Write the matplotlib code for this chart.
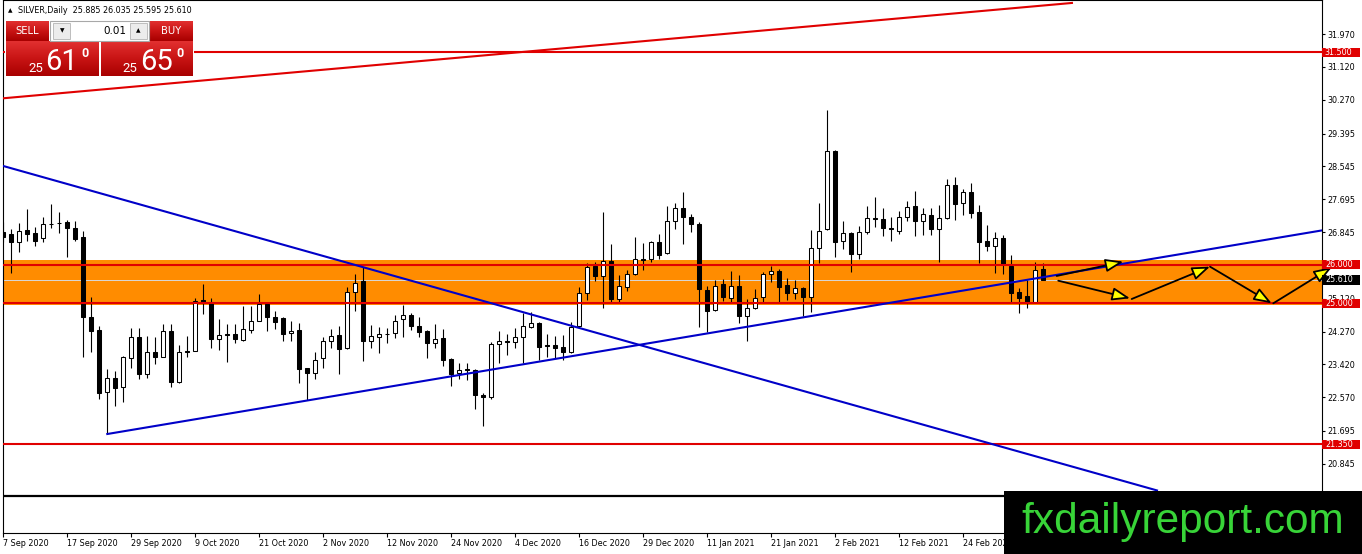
import numpy as np
import matplotlib
matplotlib.use('Agg')
import matplotlib.pyplot as plt
from matplotlib.patches import Rectangle
from matplotlib.colors import LinearSegmentedColormap
import matplotlib.transforms as mtransforms

# ---------------- data ----------------
opens = [26.855, 26.795, 26.579, 26.898, 26.829, 26.683, 27.062, 27.088, 27.097, 26.942,
         26.708, 24.654, 24.309, 22.695, 23.057, 22.824, 23.575, 24.136, 23.161, 23.731,
         23.619, 24.292, 22.971, 23.765, 23.774, 25.086, 25.025, 24.067, 24.197, 24.197,
         24.050, 24.309, 24.551, 24.982, 24.654, 24.628, 24.223, 24.309, 23.316, 23.187,
         23.575, 24.015, 24.180, 23.835, 25.285, 25.578, 24.033, 24.137, 24.206, 24.223,
         24.586, 24.698, 24.413, 24.292, 23.964, 24.094, 23.550, 23.187, 23.300, 23.274,
         22.626, 22.566, 23.947, 24.025, 23.990, 24.120, 24.395, 24.482, 23.912, 23.912,
         23.860, 23.748, 24.413, 25.258, 25.966, 25.716, 26.096, 25.103, 25.431, 25.750,
         26.139, 26.139, 26.579, 26.294, 27.140, 27.459, 27.226, 27.045, 25.345, 24.827,
         25.501, 25.129, 25.449, 24.672, 24.871, 25.155, 25.751, 25.837, 25.475, 25.259,
         25.388, 25.173, 26.424, 26.916, 28.945, 26.614, 26.830, 26.277, 26.839, 27.210,
         27.175, 26.942, 26.881, 27.244, 27.520, 27.140, 27.287, 26.933, 27.201, 28.064,
         27.589, 27.874, 27.356, 26.614, 26.484, 26.683, 25.966, 25.284, 25.189, 25.043,
         25.885]
highs = [27.115, 26.916, 27.088, 27.433, 26.985, 27.244, 27.572, 27.373, 27.157, 27.140,
         26.881, 25.155, 24.421, 23.291, 23.247, 23.645, 24.352, 24.352, 24.154, 24.136,
         24.464, 24.464, 23.921, 24.154, 25.129, 25.500, 25.129, 24.585, 24.464, 24.456,
         24.930, 24.930, 25.241, 25.017, 24.801, 24.646, 24.551, 24.499, 23.334, 23.748,
         24.119, 24.326, 24.422, 25.414, 25.760, 25.932, 24.439, 24.379, 24.353, 24.698,
         24.957, 24.758, 24.637, 24.310, 24.456, 24.335, 23.576, 23.464, 23.446, 23.291,
         22.687, 24.007, 24.292, 24.206, 24.353, 24.741, 24.784, 24.525, 24.205, 24.154,
         24.180, 24.525, 25.414, 26.052, 26.078, 27.356, 26.527, 25.733, 25.862, 26.708,
         26.570, 26.622, 26.795, 27.520, 27.606, 27.874, 27.304, 27.097, 25.448, 25.604,
         25.630, 25.837, 25.734, 25.112, 25.362, 25.820, 25.967, 25.880, 25.665, 25.604,
         25.414, 26.899, 27.589, 30.006, 28.970, 27.132, 26.856, 27.002, 27.520, 27.745,
         27.460, 27.226, 27.390, 27.649, 27.908, 27.477, 27.460, 27.546, 28.219, 28.262,
         27.960, 28.124, 27.546, 27.028, 26.855, 26.769, 26.251, 25.405, 25.604, 26.079,
         26.035]
lows = [26.579, 25.776, 26.337, 26.622, 26.493, 26.596, 26.942, 26.812, 26.208, 26.622,
        23.619, 23.748, 22.522, 21.616, 22.350, 22.453, 23.316, 23.040, 23.058, 23.420,
        23.601, 22.824, 22.945, 23.601, 23.757, 24.715, 23.834, 23.791, 23.489, 23.981,
        24.033, 24.240, 24.533, 24.292, 24.335, 24.033, 24.033, 22.945, 22.497, 23.040,
        23.334, 23.834, 23.162, 23.818, 24.810, 23.507, 23.835, 23.705, 23.964, 24.094,
        24.137, 24.310, 24.137, 23.576, 23.835, 23.377, 22.868, 23.032, 23.015, 22.255,
        21.832, 22.514, 23.464, 23.662, 23.835, 23.464, 24.352, 23.532, 23.619, 23.575,
        23.532, 23.722, 24.395, 25.086, 25.578, 24.887, 24.999, 25.017, 25.319, 25.733,
        25.862, 26.078, 26.139, 26.277, 26.916, 26.527, 26.838, 24.395, 24.266, 24.810,
        25.069, 25.000, 24.499, 24.033, 24.845, 25.017, 25.561, 25.017, 25.086, 25.112,
        24.672, 24.784, 26.036, 26.899, 26.208, 26.407, 25.820, 26.139, 26.787, 26.985,
        26.743, 26.622, 26.786, 27.140, 26.743, 26.769, 26.769, 26.079, 27.183, 27.158,
        27.287, 27.201, 26.053, 26.355, 25.794, 25.751, 25.000, 24.758, 24.870, 25.017,
        25.595]
closes = [26.726, 26.579, 26.872, 26.795, 26.622, 27.045, 27.045, 27.079, 26.942, 26.665,
          24.637, 24.292, 22.686, 23.057, 22.799, 23.601, 24.119, 23.161, 23.731, 23.619,
          24.292, 22.971, 23.731, 23.739, 25.069, 25.025, 24.067, 24.180, 24.171, 24.067,
          24.326, 24.551, 24.982, 24.637, 24.508, 24.197, 24.292, 23.299, 23.187, 23.532,
          24.024, 24.154, 23.809, 25.285, 25.518, 24.025, 24.154, 24.206, 24.197, 24.551,
          24.698, 24.413, 24.266, 23.964, 24.068, 23.533, 23.170, 23.274, 23.282, 22.626,
          22.566, 23.938, 24.025, 24.007, 24.120, 24.413, 24.482, 23.877, 23.895, 23.852,
          23.748, 24.395, 25.258, 25.949, 25.716, 26.096, 25.103, 25.448, 25.750, 26.139,
          26.130, 26.579, 26.251, 27.140, 27.459, 27.226, 27.045, 25.362, 24.810, 25.457,
          25.156, 25.449, 24.681, 24.871, 25.129, 25.760, 25.837, 25.414, 25.259, 25.388,
          25.173, 26.424, 26.882, 28.945, 26.597, 26.813, 26.269, 26.839, 27.201, 27.192,
          26.942, 26.916, 27.244, 27.485, 27.140, 27.313, 26.924, 27.201, 28.064, 27.563,
          27.874, 27.330, 26.579, 26.493, 26.683, 26.018, 25.276, 25.146, 25.043, 25.863,
          25.610]

x_tick_labels = ['7 Sep 2020', '17 Sep 2020', '29 Sep 2020', '9 Oct 2020', '21 Oct 2020',
                 '2 Nov 2020', '12 Nov 2020', '24 Nov 2020', '4 Dec 2020', '16 Dec 2020',
                 '29 Dec 2020', '11 Jan 2021', '21 Jan 2021', '2 Feb 2021', '12 Feb 2021',
                 '24 Feb 2021']
bars_per_label = 8
y_tick_values = [31.970, 31.120, 30.270, 29.395, 28.545, 27.695, 26.845, 25.120,
                 24.270, 23.420, 22.570, 21.695, 20.845]

red_levels = [31.5, 26.0, 25.0, 21.35]
black_level = 20.0
zone_low, zone_high = 24.96, 26.11
bid_price = 25.610

red_trend_x = [-1.0, 133.75]
red_trend_y = [30.29, 32.78]
blue_down_x = [-1.0, 144.25]
blue_down_y = [28.616, 20.155]
blue_up_x = [13.04, 170.0]
blue_up_y = [21.616, 27.066]

arrow_x0 = [131.71, 131.91, 141.09, 150.88, 158.79]
arrow_y0 = [25.708, 25.586, 25.112, 25.949, 25.001]
arrow_x1 = [140.04, 140.88, 150.88, 158.59, 166.09]
arrow_y1 = [26.078, 25.130, 25.949, 25.001, 25.933]

title_text = 'SILVER,Daily  25.885 26.035 25.595 25.610'

# ---------------- figure ----------------
W, H = 1362, 554
fig = plt.figure(figsize=(W / 100, H / 100), dpi=100)
fig.patch.set_facecolor('white')
left_px, right_px, bottom_px = 2.7, 1321.7, 533.3
ax = fig.add_axes([left_px / W, (H - bottom_px) / H, (right_px - left_px) / W, bottom_px / H])
ax.set_facecolor('white')
ax.set_xlim(-0.0375, 164.84)
ax.set_ylim(19.045, 32.854)

o = np.array(opens); h = np.array(highs); l = np.array(lows); c = np.array(closes)
idx = np.arange(len(o))
up = c >= o

# zone + bid line
ax.axhspan(zone_low, zone_high, color='#FF8C00', zorder=0.5, lw=0)
ax.axhline(bid_price, color='#D8D8D8', lw=0.7, zorder=0.8)

# candles
ax.vlines(idx, l, h, color='black', lw=0.8, zorder=2)
body_bottom = np.minimum(o, c)
body_height = np.maximum(np.abs(c - o), 0.004)
ax.bar(idx[up], body_height[up], bottom=body_bottom[up], width=0.5,
       color='white', edgecolor='black', lw=0.75, zorder=2.2)
ax.bar(idx[~up], body_height[~up], bottom=body_bottom[~up], width=0.5,
       color='black', edgecolor='black', lw=0.75, zorder=2.2)

# lines
for lv in red_levels:
    ax.axhline(lv, color='#E00000', lw=1.5, zorder=3)
ax.axhline(black_level, color='black', lw=1.6, zorder=3)
ax.plot(red_trend_x, red_trend_y, color='#E00000', lw=1.5, zorder=3, solid_capstyle='butt')
ax.plot(blue_down_x, blue_down_y, color='#0000C8', lw=1.5, zorder=3)
ax.plot(blue_up_x, blue_up_y, color='#0000C8', lw=1.5, zorder=3)

# projected path arrows
for x0, y0, x1, y1 in zip(arrow_x0, arrow_y0, arrow_x1, arrow_y1):
    ax.annotate('', xy=(x1, y1), xytext=(x0, y0), annotation_clip=False,
                arrowprops=dict(arrowstyle='-|>,head_length=0.6,head_width=0.22',
                                mutation_scale=18, fc='#FFFF00', ec='black', lw=1.3,
                                shrinkA=0, shrinkB=0),
                zorder=4)

# axes styling
for s in ax.spines.values():
    s.set_color('black'); s.set_linewidth(0.8)
ax.yaxis.tick_right()
ax.set_yticks(y_tick_values)
ax.set_yticklabels([f'{v:.3f}' for v in y_tick_values])
ax.tick_params(axis='y', length=2.5, width=0.8, pad=1.5, labelsize=5.8, colors='black')
ax.set_xticks([bars_per_label * k for k in range(len(x_tick_labels))])
ax.set_xticklabels(x_tick_labels)
ax.tick_params(axis='x', length=3, width=0.8, pad=1, labelsize=5.8, colors='black')
for t in ax.get_xticklabels():
    t.set_ha('left')

# price labels on the right axis
bt = mtransforms.blended_transform_factory(ax.transAxes, ax.transData)
axw = right_px - left_px
box_h = 9.5 / 38.62
for lv, col in [(v, '#E00000') for v in red_levels] + [(bid_price, 'black')]:
    ax.add_patch(Rectangle((1 + 0.6 / axw, lv - box_h / 2), 37.7 / axw, box_h,
                           transform=bt, facecolor=col, edgecolor='none',
                           clip_on=False, zorder=6))
    ax.text(1 + 3.2 / axw, lv, f'{lv:.3f}', transform=bt, color='white', fontsize=5.8,
            va='center', ha='left', clip_on=False, zorder=7)

# ---------------- overlay (trade panel, title, watermark) ----------------
ov = fig.add_axes([0, 0, 1, 1], zorder=10)
ov.set_xlim(0, W); ov.set_ylim(H, 0)
ov.axis('off')

red_cmap = LinearSegmentedColormap.from_list('r', ['#E23030', '#C81414', '#A80000'])
grad = np.linspace(0, 1, 64).reshape(-1, 1)

def red_box(x0, x1, y0, y1):
    ov.add_patch(Rectangle((x0 - 1, y0 - 1), x1 - x0 + 2, y1 - y0 + 2, facecolor='white',
                           edgecolor='none', zorder=1))
    ov.imshow(grad, extent=[x0, x1, y1, y0], cmap=red_cmap, aspect='auto', zorder=2,
              interpolation='bilinear')

red_box(6, 49, 20.7, 40.7)
red_box(149.3, 193, 20.7, 40.7)
red_box(6, 99, 41.7, 76)
red_box(101, 193, 41.7, 76)
ov.add_patch(Rectangle((99, 41.7), 2, 34.3, facecolor='white', edgecolor='none', zorder=3))

# spinner
ov.add_patch(Rectangle((50, 20.7), 99, 20.3, facecolor='white', edgecolor='#A8A8A8', lw=0.8, zorder=3))
for bx in (53.3, 130):
    ov.add_patch(Rectangle((bx, 22.5), 17, 16.8, facecolor='#ECECEC', edgecolor='#B4B4B4',
                           lw=0.6, zorder=4))
ov.text(61.8, 31, '▼', fontsize=4.2, ha='center', va='center', color='black', zorder=5)
ov.text(138.5, 30.5, '▲', fontsize=4.2, ha='center', va='center', color='black', zorder=5)
ov.text(126.5, 31, '0.01', fontsize=7.5, ha='right', va='center', color='black', zorder=5)

ov.text(27.5, 31, 'SELL', fontsize=7.2, ha='center', va='center', color='white', zorder=5)
ov.text(171.2, 31, 'BUY', fontsize=7.2, ha='center', va='center', color='white', zorder=5)

fam = ['Roboto', 'DejaVu Sans']
for cx_small, cx_big, cx_sup, big in [(36.3, 61.7, 85.0, '61'), (130.2, 156.7, 180.4, '65')]:
    ov.text(cx_small, 71.7, '25', fontsize=9.5, family=fam, ha='center', va='baseline',
            color='white', zorder=5)
    ov.text(cx_big, 70.3, big, fontsize=21, family=fam, ha='center', va='baseline',
            color='white', zorder=5)
    ov.text(cx_sup, 57, '0', fontsize=9, family=fam, weight='bold', ha='center',
            va='baseline', color='white', zorder=5)

# title
ov.text(10.5, 10.5, '▲', fontsize=4.2, ha='center', va='center', color='black', zorder=5)
ov.text(18, 10.5, title_text, fontsize=5.8, ha='left', va='center', color='black', zorder=5)

# watermark
ov.add_patch(Rectangle((1004, 491), W - 1004, H - 491, facecolor='black', edgecolor='none', zorder=6))
ov.text(1182.5, 532.7, 'fxdailyreport.com', fontsize=30.5, family=['Liberation Sans', 'DejaVu Sans'],
        ha='center', va='baseline', color='#38D438', zorder=7)

fig.savefig('out.png', dpi=100)
